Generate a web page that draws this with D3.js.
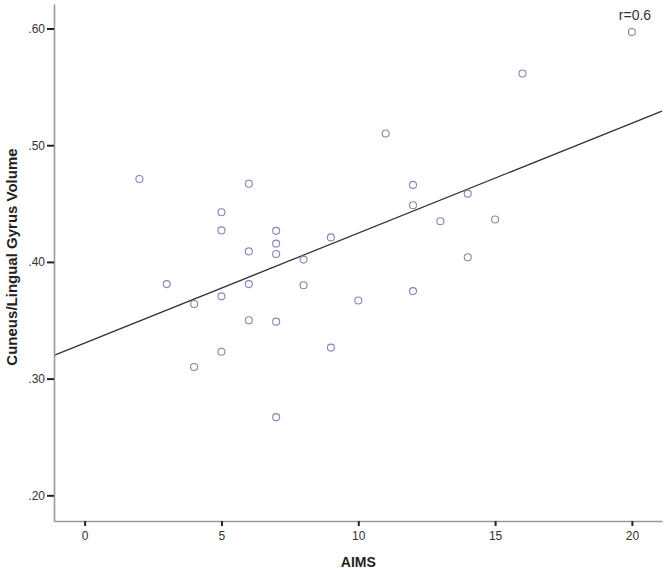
<!DOCTYPE html>
<html>
<head>
<meta charset="utf-8">
<script src="https://cdn.jsdelivr.net/npm/d3@7"></script>
<style>
  body { margin: 0; background: #fff; }
  text { font-family: Arial, "Liberation Sans", sans-serif; }
</style>
</head>
<body>
<script>
// AIMS score per subject
var aims = [2, 3, 4, 4, 5, 5, 5, 5, 6, 6, 6, 6, 7, 7, 7, 7, 7, 8, 8, 9, 9, 10, 11, 12, 12, 12, 13, 14, 14, 15, 16, 20];
// cuneus/lingual gyrus volume per subject
var volume = [0.471, 0.381, 0.364, 0.310, 0.4425, 0.427, 0.3705, 0.323, 0.467, 0.409, 0.381, 0.350,
              0.4266, 0.4157, 0.4068, 0.3488, 0.267, 0.402, 0.380, 0.421, 0.3266, 0.367, 0.510,
              0.466, 0.4485, 0.375, 0.4348, 0.4585, 0.404, 0.4363, 0.5614, 0.597];
// tick labels
var xTicks = [0, 5, 10, 15, 20];
var yTicks = [0.20, 0.30, 0.40, 0.50, 0.60];
// fit line
var fitIntercept = 0.3305;
var fitSlope = 0.00942;

var width = 666, height = 576;
var margin = {top: 4, right: 4, bottom: 55, left: 54};

var svg = d3.select("body").append("svg")
            .attr("width", width)
            .attr("height", height);

var x = d3.scaleLinear()
          .domain([-1.12, 21.1])
          .range([margin.left, width - margin.right]);
var y = d3.scaleLinear()
          .domain([0.178, 0.621])
          .range([height - margin.bottom, margin.top]);

var points = aims.map(function(a, i){ return {x: a, y: volume[i]}; });

// fit line across the plot area
var x0 = x.domain()[0], x1 = x.domain()[1];
svg.append("line")
   .attr("x1", x(x0)).attr("y1", y(fitIntercept + fitSlope * x0))
   .attr("x2", x(x1)).attr("y2", y(fitIntercept + fitSlope * x1))
   .attr("stroke", "#333").attr("stroke-width", 1.3);

// points
svg.selectAll(".dot").data(points)
   .enter().append("circle")
   .attr("class", "dot")
   .attr("cx", function(d){ return x(d.x); })
   .attr("cy", function(d){ return y(d.y); })
   .attr("r", 3.5)
   .attr("fill", "none")
   .attr("stroke", "#8585b5")
   .attr("stroke-width", 1.1);

// axes
var xAxis = d3.axisBottom(x).tickValues(xTicks).tickSize(5).tickSizeOuter(0).tickPadding(5);
var yAxis = d3.axisLeft(y).tickValues(yTicks).tickSize(7).tickSizeOuter(0).tickPadding(2)
              .tickFormat(function(d){ return d3.format(".2f")(d).replace(/^0/, ""); });

var gx = svg.append("g").attr("transform", "translate(0," + (height - margin.bottom) + ")").call(xAxis);
var gy = svg.append("g").attr("transform", "translate(" + margin.left + ",0)").call(yAxis);

[gx, gy].forEach(function(g){
  g.select(".domain").attr("stroke", "#999").attr("stroke-width", 1.6);
  g.selectAll(".tick line").attr("stroke", "#222").attr("stroke-width", 2);
  g.selectAll(".tick text").attr("fill", "#333").style("font-size", "12px")
   .style("font-family", "Arial, 'Liberation Sans', sans-serif");
});

// titles
svg.append("text")
   .attr("x", x(10)).attr("y", 567)
   .attr("text-anchor", "middle")
   .style("font-size", "14px").style("font-weight", "bold").attr("fill", "#222")
   .text("AIMS");

svg.append("text")
   .attr("transform", "translate(17,257) rotate(-90)")
   .attr("text-anchor", "middle")
   .style("font-size", "15px").style("font-weight", "bold").attr("fill", "#222")
   .text("Cuneus/Lingual Gyrus Volume");

svg.append("text")
   .attr("x", 635).attr("y", 20)
   .attr("text-anchor", "middle")
   .style("font-size", "14px").attr("fill", "#333")
   .text("r=0.6");
</script>
</body>
</html>
